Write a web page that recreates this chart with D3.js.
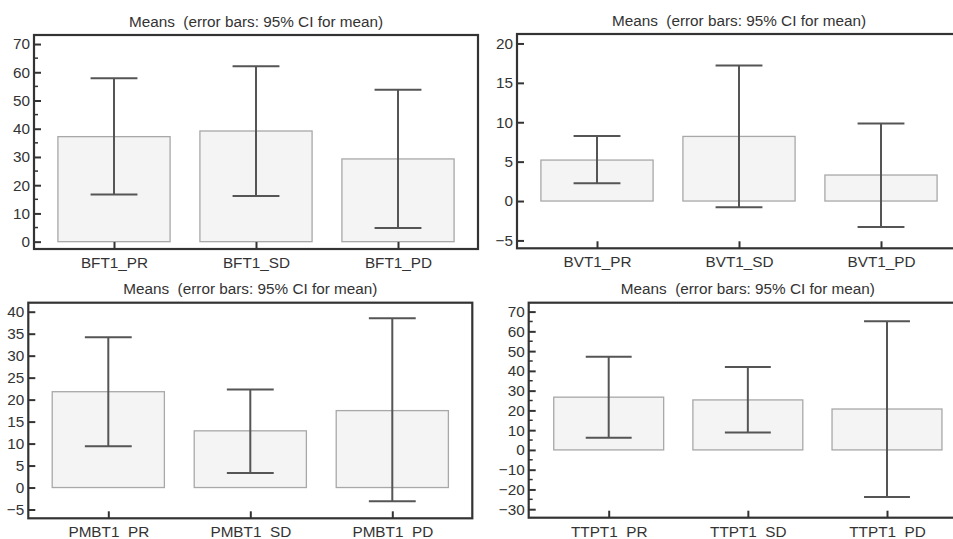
<!DOCTYPE html>
<html>
<head>
<meta charset="utf-8">
<script src="https://cdn.jsdelivr.net/npm/d3@7"></script>
<style>
  html, body { margin: 0; padding: 0; background: #fff; }
  svg { display: block; font-family: "Liberation Sans", Arial, sans-serif; }
  text { white-space: pre; }
</style>
</head>
<body>
<svg id="chart" width="953" height="539"></svg>
<script>
// Means with 95% confidence intervals, one panel per measure
const titleText = "Means  (error bars: 95% CI for mean)";

const categoriesBFT = ["BFT1_PR", "BFT1_SD", "BFT1_PD"];
const meansBFT = [37.2, 39.2, 29.3];
const lowerBFT = [16.7, 16.2, 4.8];
const upperBFT = [57.9, 62.1, 53.8];
const ticksBFT = [0, 10, 20, 30, 40, 50, 60, 70];
const minorBFT = [5, 15, 25, 35, 45, 55, 65];

const categoriesBVT = ["BVT1_PR", "BVT1_SD", "BVT1_PD"];
const meansBVT = [5.2, 8.2, 3.3];
const lowerBVT = [2.25, -0.8, -3.3];
const upperBVT = [8.25, 17.2, 9.85];
const ticksBVT = [-5, 0, 5, 10, 15, 20];
const minorBVT = [];

const categoriesPMBT = ["PMBT1_PR", "PMBT1_SD", "PMBT1_PD"];
const meansPMBT = [21.8, 12.9, 17.5];
const lowerPMBT = [9.4, 3.3, -3.1];
const upperPMBT = [34.2, 22.3, 38.5];
const ticksPMBT = [-5, 0, 5, 10, 15, 20, 25, 30, 35, 40];
const minorPMBT = [];

const categoriesTTPT = ["TTPT1_PR", "TTPT1_SD", "TTPT1_PD"];
const meansTTPT = [26.7, 25.3, 20.7];
const lowerTTPT = [6.2, 8.8, -23.8];
const upperTTPT = [47.2, 41.9, 65.1];
const ticksTTPT = [-30, -20, -10, 0, 10, 20, 30, 40, 50, 60, 70];
const minorTTPT = [-25, -15, -5, 5, 15, 25, 35, 45, 55, 65];

// Panel frames (plot area) and the value span each frame covers
const panels = [
  { cats: categoriesBFT, means: meansBFT, lo: lowerBFT, hi: upperBFT, ticks: ticksBFT, minor: minorBFT,
    x0: 34, x1: 478, y0: 35, y1: 249, dom: [-2.6, 73.2] },
  { cats: categoriesBVT, means: meansBVT, lo: lowerBVT, hi: upperBVT, ticks: ticksBVT, minor: minorBVT,
    x0: 517, x1: 961, y0: 34, y1: 248.3, dom: [-6.0, 21.2] },
  { cats: categoriesPMBT, means: meansPMBT, lo: lowerPMBT, hi: upperPMBT, ticks: ticksPMBT, minor: minorPMBT,
    x0: 28.3, x1: 472.3, y0: 302.7, y1: 518.3, dom: [-7.0, 42.05] },
  { cats: categoriesTTPT, means: meansTTPT, lo: lowerTTPT, hi: upperTTPT, ticks: ticksTTPT, minor: minorTTPT,
    x0: 528.7, x1: 967, y0: 302.7, y1: 517.7, dom: [-34.3, 74.5] }
];

const svg = d3.select("#chart");
const textColor = "#333";
const frameColor = "#333";
const errColor = "#555";
const fontSize = 15.3;

panels.forEach(p => {
  const g = svg.append("g");
  const x = d3.scalePoint().domain(p.cats).range([p.x0 + 80, p.x1 - 80]);
  const y = d3.scaleLinear().domain(p.dom).range([p.y1, p.y0]);
  const step = x.step();
  const barW = step * 0.79;
  const capW = step * 0.33;

  // Title
  g.append("text")
    .attr("x", (p.x0 + p.x1) / 2)
    .attr("y", p.y0 - 8.5)
    .attr("text-anchor", "middle")
    .attr("font-size", fontSize)
    .attr("fill", textColor)
    .text(titleText);

  // Bars from zero to mean
  g.selectAll("rect.bar").data(p.cats).join("rect")
    .attr("class", "bar")
    .attr("x", d => x(d) - barW / 2)
    .attr("width", barW)
    .attr("y", (d, i) => Math.min(y(p.means[i]), y(0)))
    .attr("height", (d, i) => Math.abs(y(0) - y(p.means[i])))
    .attr("fill", "#f4f4f4")
    .attr("stroke", "#a8a8a8")
    .attr("stroke-width", 1.3);

  // Error bars
  const eb = g.selectAll("g.err").data(p.cats).join("g").attr("class", "err")
    .attr("stroke", errColor).attr("stroke-width", 2).attr("fill", "none");
  eb.append("line")
    .attr("x1", d => x(d)).attr("x2", d => x(d))
    .attr("y1", (d, i) => y(p.lo[i])).attr("y2", (d, i) => y(p.hi[i]));
  eb.append("line")
    .attr("x1", d => x(d) - capW / 2).attr("x2", d => x(d) + capW / 2)
    .attr("y1", (d, i) => y(p.hi[i])).attr("y2", (d, i) => y(p.hi[i]));
  eb.append("line")
    .attr("x1", d => x(d) - capW / 2).attr("x2", d => x(d) + capW / 2)
    .attr("y1", (d, i) => y(p.lo[i])).attr("y2", (d, i) => y(p.lo[i]));

  // Y axis: inward ticks, labels on the outside
  const yAxis = d3.axisRight(y).tickValues(p.ticks).tickSize(7).tickFormat(d3.format("d"));
  const ya = g.append("g").attr("transform", `translate(${p.x0},0)`).call(yAxis);
  ya.select(".domain").remove();
  ya.selectAll(".tick line").attr("stroke", frameColor).attr("stroke-width", 2);
  ya.selectAll(".tick text")
    .attr("x", -4).attr("text-anchor", "end")
    .attr("font-size", fontSize).attr("fill", textColor)
    .attr("font-family", "Liberation Sans, Arial, sans-serif");
  // minor ticks
  g.selectAll("line.minor").data(p.minor).join("line")
    .attr("class", "minor")
    .attr("x1", p.x0).attr("x2", p.x0 + 4)
    .attr("y1", d => y(d)).attr("y2", d => y(d))
    .attr("stroke", frameColor).attr("stroke-width", 1.5);

  // X axis: inward ticks, category labels below
  const xAxis = d3.axisTop(x).tickSize(7);
  const xa = g.append("g").attr("transform", `translate(0,${p.y1})`).call(xAxis);
  xa.select(".domain").remove();
  xa.selectAll(".tick line").attr("stroke", frameColor).attr("stroke-width", 2);
  xa.selectAll(".tick text")
    .attr("y", 19).attr("dy", "0em")
    .attr("font-size", fontSize).attr("fill", textColor)
    .attr("font-family", "Liberation Sans, Arial, sans-serif");

  // Frame
  g.append("rect")
    .attr("x", p.x0).attr("y", p.y0)
    .attr("width", p.x1 - p.x0).attr("height", p.y1 - p.y0)
    .attr("fill", "none").attr("stroke", frameColor).attr("stroke-width", 2.2);
});
</script>
</body>
</html>
